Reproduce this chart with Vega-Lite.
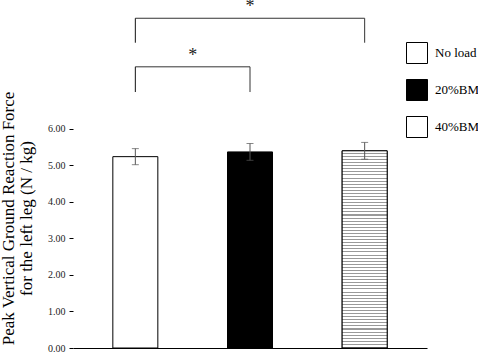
{
  "$schema": "https://vega.github.io/schema/vega-lite/v6.json",
  "width": 354,
  "height": 348,
  "autosize": "none",
  "padding": {"left": 73, "top": 0, "right": 51, "bottom": 5},
  "background": "white",
  "config": {"view": {"stroke": null}},
  "datasets": {
    "bars": [
      {"condition": "No load", "pos": 1, "mean": 5.24, "err": 0.22},
      {"condition": "20%BM", "pos": 2, "mean": 5.37, "err": 0.23},
      {"condition": "40%BM", "pos": 3, "mean": 5.40, "err": 0.23}
    ],
    "comparisons": [
      {"from": 1, "to": 2, "mid": 1.5, "top": 7.70, "bottom": 7.01, "star": 8.0, "label": "*"},
      {"from": 1, "to": 3, "mid": 2, "top": 9.03, "bottom": 8.36, "star": 9.33, "label": "*"}
    ]
  },
  "layer": [
    {
      "data": {"name": "bars"},
      "mark": {"type": "bar", "stroke": "black", "strokeWidth": 1},
      "encoding": {
        "x": {"field": "pos", "type": "quantitative", "scale": {"domain": [0.5, 3.5], "nice": false, "zero": false}, "axis": {"labels": false, "ticks": false, "title": null, "grid": false, "domainColor": "black", "domainWidth": 1}},
        "y": {"field": "mean", "type": "quantitative", "title": ["Peak Vertical Ground Reaction Force", "for the left leg (N / kg)"], "scale": {"domain": [0, 9.53], "nice": false}, "axis": {"values": [0, 1, 2, 3, 4, 5, 6], "format": ".2f", "grid": false, "domain": false, "tickSize": 4, "tickColor": "black", "labelPadding": 4, "labelFont": "Liberation Serif", "labelFontSize": 10, "labelColor": "#222", "titleFont": "Liberation Serif", "titleFontSize": 17, "titleFontWeight": "normal", "titleColor": "black", "titleAngle": 270, "titleBaseline": "top", "titleAlign": "center", "titleX": -73, "titleY": 218, "titleLineHeight": 18}},
        "size": {"value": 45},
        "fill": {"field": "condition", "type": "nominal", "scale": {"domain": ["No load", "20%BM", "40%BM"], "range": ["#ffffff", "#000000", "#ffffff"]}, "legend": {"title": null, "orient": "none", "legendX": 333, "legendY": 42, "symbolType": "square", "symbolSize": 441, "symbolStrokeColor": "black", "symbolStrokeWidth": 1, "rowPadding": 11, "labelOffset": 7, "labelFont": "Liberation Serif", "labelFontSize": 13, "labelColor": "black", "padding": 0,
          "encode": {"symbols": {"update": {
            "stroke": {"value": "black"},
            "strokeWidth": {"value": 1}
          }}}}}
      }
    },
    {
      "data": {"name": "bars"},
      "transform": [{"filter": "datum.condition === '40%BM'"}],
      "mark": {"type": "bar", "stroke": "black", "strokeWidth": 1, "fill": {"gradient": "linear", "x1": 0, "y1": 0, "x2": 0, "y2": 1, "stops": [
        {"offset": 0, "color": "white"}, {"offset": 0.0104, "color": "white"}, {"offset": 0.0104, "color": "#999"}, {"offset": 0.0156, "color": "#999"},
        {"offset": 0.0156, "color": "white"}, {"offset": 0.026, "color": "white"}, {"offset": 0.026, "color": "#999"}, {"offset": 0.0313, "color": "#999"},
        {"offset": 0.0313, "color": "white"}, {"offset": 0.0417, "color": "white"}, {"offset": 0.0417, "color": "#999"}, {"offset": 0.0469, "color": "#999"},
        {"offset": 0.0469, "color": "white"}, {"offset": 0.0573, "color": "white"}, {"offset": 0.0573, "color": "#999"}, {"offset": 0.0625, "color": "#999"},
        {"offset": 0.0625, "color": "white"}, {"offset": 0.0729, "color": "white"}, {"offset": 0.0729, "color": "#999"}, {"offset": 0.0781, "color": "#999"},
        {"offset": 0.0781, "color": "white"}, {"offset": 0.0885, "color": "white"}, {"offset": 0.0885, "color": "#999"}, {"offset": 0.0938, "color": "#999"},
        {"offset": 0.0938, "color": "white"}, {"offset": 0.1042, "color": "white"}, {"offset": 0.1042, "color": "#999"}, {"offset": 0.1094, "color": "#999"},
        {"offset": 0.1094, "color": "white"}, {"offset": 0.1198, "color": "white"}, {"offset": 0.1198, "color": "#999"}, {"offset": 0.125, "color": "#999"},
        {"offset": 0.125, "color": "white"}, {"offset": 0.1354, "color": "white"}, {"offset": 0.1354, "color": "#999"}, {"offset": 0.1406, "color": "#999"},
        {"offset": 0.1406, "color": "white"}, {"offset": 0.151, "color": "white"}, {"offset": 0.151, "color": "#999"}, {"offset": 0.1563, "color": "#999"},
        {"offset": 0.1563, "color": "white"}, {"offset": 0.1667, "color": "white"}, {"offset": 0.1667, "color": "#999"}, {"offset": 0.1719, "color": "#999"},
        {"offset": 0.1719, "color": "white"}, {"offset": 0.1823, "color": "white"}, {"offset": 0.1823, "color": "#999"}, {"offset": 0.1875, "color": "#999"},
        {"offset": 0.1875, "color": "white"}, {"offset": 0.1979, "color": "white"}, {"offset": 0.1979, "color": "#999"}, {"offset": 0.2031, "color": "#999"},
        {"offset": 0.2031, "color": "white"}, {"offset": 0.2135, "color": "white"}, {"offset": 0.2135, "color": "#999"}, {"offset": 0.2188, "color": "#999"},
        {"offset": 0.2188, "color": "white"}, {"offset": 0.2292, "color": "white"}, {"offset": 0.2292, "color": "#999"}, {"offset": 0.2344, "color": "#999"},
        {"offset": 0.2344, "color": "white"}, {"offset": 0.2448, "color": "white"}, {"offset": 0.2448, "color": "#999"}, {"offset": 0.25, "color": "#999"},
        {"offset": 0.25, "color": "white"}, {"offset": 0.2604, "color": "white"}, {"offset": 0.2604, "color": "#999"}, {"offset": 0.2656, "color": "#999"},
        {"offset": 0.2656, "color": "white"}, {"offset": 0.276, "color": "white"}, {"offset": 0.276, "color": "#999"}, {"offset": 0.2813, "color": "#999"},
        {"offset": 0.2813, "color": "white"}, {"offset": 0.2917, "color": "white"}, {"offset": 0.2917, "color": "#999"}, {"offset": 0.2969, "color": "#999"},
        {"offset": 0.2969, "color": "white"}, {"offset": 0.3073, "color": "white"}, {"offset": 0.3073, "color": "#999"}, {"offset": 0.3125, "color": "#999"},
        {"offset": 0.3125, "color": "white"}, {"offset": 0.3229, "color": "white"}, {"offset": 0.3229, "color": "#999"}, {"offset": 0.3281, "color": "#999"},
        {"offset": 0.3281, "color": "white"}, {"offset": 0.3385, "color": "white"}, {"offset": 0.3385, "color": "#999"}, {"offset": 0.3438, "color": "#999"},
        {"offset": 0.3438, "color": "white"}, {"offset": 0.3542, "color": "white"}, {"offset": 0.3542, "color": "#999"}, {"offset": 0.3594, "color": "#999"},
        {"offset": 0.3594, "color": "white"}, {"offset": 0.3698, "color": "white"}, {"offset": 0.3698, "color": "#999"}, {"offset": 0.375, "color": "#999"},
        {"offset": 0.375, "color": "white"}, {"offset": 0.3854, "color": "white"}, {"offset": 0.3854, "color": "#999"}, {"offset": 0.3906, "color": "#999"},
        {"offset": 0.3906, "color": "white"}, {"offset": 0.401, "color": "white"}, {"offset": 0.401, "color": "#999"}, {"offset": 0.4063, "color": "#999"},
        {"offset": 0.4063, "color": "white"}, {"offset": 0.4167, "color": "white"}, {"offset": 0.4167, "color": "#999"}, {"offset": 0.4219, "color": "#999"},
        {"offset": 0.4219, "color": "white"}, {"offset": 0.4323, "color": "white"}, {"offset": 0.4323, "color": "#999"}, {"offset": 0.4375, "color": "#999"},
        {"offset": 0.4375, "color": "white"}, {"offset": 0.4479, "color": "white"}, {"offset": 0.4479, "color": "#999"}, {"offset": 0.4531, "color": "#999"},
        {"offset": 0.4531, "color": "white"}, {"offset": 0.4635, "color": "white"}, {"offset": 0.4635, "color": "#999"}, {"offset": 0.4688, "color": "#999"},
        {"offset": 0.4688, "color": "white"}, {"offset": 0.4792, "color": "white"}, {"offset": 0.4792, "color": "#999"}, {"offset": 0.4844, "color": "#999"},
        {"offset": 0.4844, "color": "white"}, {"offset": 0.4948, "color": "white"}, {"offset": 0.4948, "color": "#999"}, {"offset": 0.5, "color": "#999"},
        {"offset": 0.5, "color": "white"}, {"offset": 0.5104, "color": "white"}, {"offset": 0.5104, "color": "#999"}, {"offset": 0.5156, "color": "#999"},
        {"offset": 0.5156, "color": "white"}, {"offset": 0.526, "color": "white"}, {"offset": 0.526, "color": "#999"}, {"offset": 0.5313, "color": "#999"},
        {"offset": 0.5313, "color": "white"}, {"offset": 0.5417, "color": "white"}, {"offset": 0.5417, "color": "#999"}, {"offset": 0.5469, "color": "#999"},
        {"offset": 0.5469, "color": "white"}, {"offset": 0.5573, "color": "white"}, {"offset": 0.5573, "color": "#999"}, {"offset": 0.5625, "color": "#999"},
        {"offset": 0.5625, "color": "white"}, {"offset": 0.5729, "color": "white"}, {"offset": 0.5729, "color": "#999"}, {"offset": 0.5781, "color": "#999"},
        {"offset": 0.5781, "color": "white"}, {"offset": 0.5885, "color": "white"}, {"offset": 0.5885, "color": "#999"}, {"offset": 0.5938, "color": "#999"},
        {"offset": 0.5938, "color": "white"}, {"offset": 0.6042, "color": "white"}, {"offset": 0.6042, "color": "#999"}, {"offset": 0.6094, "color": "#999"},
        {"offset": 0.6094, "color": "white"}, {"offset": 0.6198, "color": "white"}, {"offset": 0.6198, "color": "#999"}, {"offset": 0.625, "color": "#999"},
        {"offset": 0.625, "color": "white"}, {"offset": 0.6354, "color": "white"}, {"offset": 0.6354, "color": "#999"}, {"offset": 0.6406, "color": "#999"},
        {"offset": 0.6406, "color": "white"}, {"offset": 0.651, "color": "white"}, {"offset": 0.651, "color": "#999"}, {"offset": 0.6563, "color": "#999"},
        {"offset": 0.6563, "color": "white"}, {"offset": 0.6667, "color": "white"}, {"offset": 0.6667, "color": "#999"}, {"offset": 0.6719, "color": "#999"},
        {"offset": 0.6719, "color": "white"}, {"offset": 0.6823, "color": "white"}, {"offset": 0.6823, "color": "#999"}, {"offset": 0.6875, "color": "#999"},
        {"offset": 0.6875, "color": "white"}, {"offset": 0.6979, "color": "white"}, {"offset": 0.6979, "color": "#999"}, {"offset": 0.7031, "color": "#999"},
        {"offset": 0.7031, "color": "white"}, {"offset": 0.7135, "color": "white"}, {"offset": 0.7135, "color": "#999"}, {"offset": 0.7188, "color": "#999"},
        {"offset": 0.7188, "color": "white"}, {"offset": 0.7292, "color": "white"}, {"offset": 0.7292, "color": "#999"}, {"offset": 0.7344, "color": "#999"},
        {"offset": 0.7344, "color": "white"}, {"offset": 0.7448, "color": "white"}, {"offset": 0.7448, "color": "#999"}, {"offset": 0.75, "color": "#999"},
        {"offset": 0.75, "color": "white"}, {"offset": 0.7604, "color": "white"}, {"offset": 0.7604, "color": "#999"}, {"offset": 0.7656, "color": "#999"},
        {"offset": 0.7656, "color": "white"}, {"offset": 0.776, "color": "white"}, {"offset": 0.776, "color": "#999"}, {"offset": 0.7813, "color": "#999"},
        {"offset": 0.7813, "color": "white"}, {"offset": 0.7917, "color": "white"}, {"offset": 0.7917, "color": "#999"}, {"offset": 0.7969, "color": "#999"},
        {"offset": 0.7969, "color": "white"}, {"offset": 0.8073, "color": "white"}, {"offset": 0.8073, "color": "#999"}, {"offset": 0.8125, "color": "#999"},
        {"offset": 0.8125, "color": "white"}, {"offset": 0.8229, "color": "white"}, {"offset": 0.8229, "color": "#999"}, {"offset": 0.8281, "color": "#999"},
        {"offset": 0.8281, "color": "white"}, {"offset": 0.8385, "color": "white"}, {"offset": 0.8385, "color": "#999"}, {"offset": 0.8438, "color": "#999"},
        {"offset": 0.8438, "color": "white"}, {"offset": 0.8542, "color": "white"}, {"offset": 0.8542, "color": "#999"}, {"offset": 0.8594, "color": "#999"},
        {"offset": 0.8594, "color": "white"}, {"offset": 0.8698, "color": "white"}, {"offset": 0.8698, "color": "#999"}, {"offset": 0.875, "color": "#999"},
        {"offset": 0.875, "color": "white"}, {"offset": 0.8854, "color": "white"}, {"offset": 0.8854, "color": "#999"}, {"offset": 0.8906, "color": "#999"},
        {"offset": 0.8906, "color": "white"}, {"offset": 0.901, "color": "white"}, {"offset": 0.901, "color": "#999"}, {"offset": 0.9063, "color": "#999"},
        {"offset": 0.9063, "color": "white"}, {"offset": 0.9167, "color": "white"}, {"offset": 0.9167, "color": "#999"}, {"offset": 0.9219, "color": "#999"},
        {"offset": 0.9219, "color": "white"}, {"offset": 0.9323, "color": "white"}, {"offset": 0.9323, "color": "#999"}, {"offset": 0.9375, "color": "#999"},
        {"offset": 0.9375, "color": "white"}, {"offset": 0.9479, "color": "white"}, {"offset": 0.9479, "color": "#999"}, {"offset": 0.9531, "color": "#999"},
        {"offset": 0.9531, "color": "white"}, {"offset": 0.9635, "color": "white"}, {"offset": 0.9635, "color": "#999"}, {"offset": 0.9688, "color": "#999"},
        {"offset": 0.9688, "color": "white"}, {"offset": 0.9792, "color": "white"}, {"offset": 0.9792, "color": "#999"}, {"offset": 0.9844, "color": "#999"},
        {"offset": 0.9844, "color": "white"}, {"offset": 0.9948, "color": "white"}, {"offset": 0.9948, "color": "#999"}, {"offset": 1, "color": "#999"}
      ]}},
      "encoding": {
        "x": {"field": "pos", "type": "quantitative"},
        "y": {"field": "mean", "type": "quantitative", "title": ["Peak Vertical Ground Reaction Force", "for the left leg (N / kg)"]},
        "size": {"value": 45}
      }
    },
    {
      "data": {"name": "bars"},
      "mark": {"type": "errorbar", "ticks": {"size": 7, "color": "#555"}, "rule": {"color": "#555"}},
      "encoding": {
        "x": {"field": "pos", "type": "quantitative"},
        "y": {"field": "mean", "type": "quantitative", "title": ["Peak Vertical Ground Reaction Force", "for the left leg (N / kg)"]},
        "yError": {"field": "err"}
      }
    },
    {
      "mark": {"type": "rule", "color": "black", "strokeWidth": 1},
      "encoding": {
        "x": {"datum": 0.5, "type": "quantitative"},
        "y": {"datum": 0, "type": "quantitative", "title": ["Peak Vertical Ground Reaction Force", "for the left leg (N / kg)"]},
        "y2": {"datum": 6}
      }
    },
    {
      "data": {"name": "comparisons"},
      "layer": [
        {
          "mark": {"type": "rule", "color": "#333", "strokeWidth": 1},
          "encoding": {"x": {"field": "from", "type": "quantitative"}, "x2": {"field": "to"}, "y": {"field": "top", "type": "quantitative", "title": ["Peak Vertical Ground Reaction Force", "for the left leg (N / kg)"]}}
        },
        {
          "mark": {"type": "rule", "color": "#111", "strokeWidth": 1},
          "encoding": {"x": {"field": "from", "type": "quantitative"}, "y": {"field": "top", "type": "quantitative", "title": ["Peak Vertical Ground Reaction Force", "for the left leg (N / kg)"]}, "y2": {"field": "bottom"}}
        },
        {
          "mark": {"type": "rule", "color": "#333", "strokeWidth": 1},
          "encoding": {"x": {"field": "to", "type": "quantitative"}, "y": {"field": "top", "type": "quantitative", "title": ["Peak Vertical Ground Reaction Force", "for the left leg (N / kg)"]}, "y2": {"field": "bottom"}}
        },
        {
          "mark": {"type": "text", "font": "Liberation Serif", "fontSize": 18, "baseline": "middle", "align": "center", "color": "#222"},
          "encoding": {"x": {"field": "mid", "type": "quantitative"}, "y": {"field": "star", "type": "quantitative", "title": ["Peak Vertical Ground Reaction Force", "for the left leg (N / kg)"]}, "text": {"field": "label"}}
        }
      ]
    }
  ]
}
